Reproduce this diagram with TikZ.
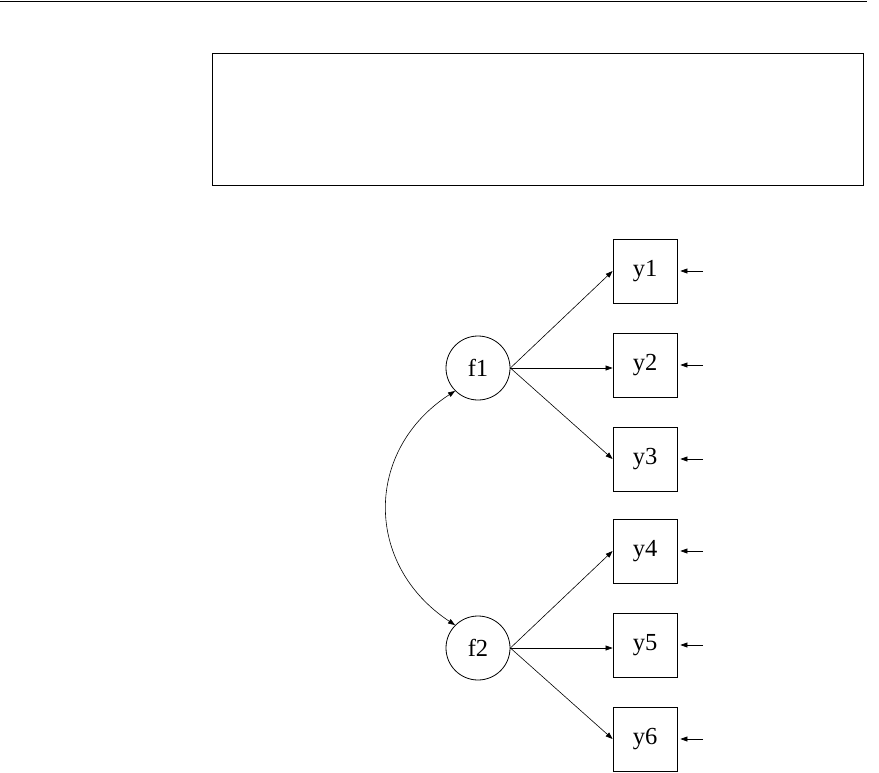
\documentclass[tikz,border=0pt]{standalone}
\usepackage{fontspec}
\setmainfont{Liberation Serif}
\usetikzlibrary{arrows.meta}
\begin{document}
\begin{tikzpicture}[x=1pt,y=-1pt,
  obs/.style={draw,line width=0.8pt,minimum width=64pt,minimum height=64pt,inner sep=0pt,font=\fontsize{24.5}{28}\selectfont},
  lat/.style={draw,circle,line width=0.8pt,minimum size=64pt,inner sep=0pt,font=\fontsize{24.5}{28}\selectfont},
  path/.style={line width=0.6pt,-{Triangle[length=7pt,width=5pt]}},
  cov/.style={line width=0.6pt,{Triangle[length=7pt,width=5pt]}-{Triangle[length=7pt,width=5pt]}}]
\useasboundingbox (0,0) rectangle (879,772);
\coordinate (tl) at (0,1);
\coordinate (tr) at (867,1);
\draw[line width=1pt] (tl) -- (tr);
\node[draw,line width=1pt,minimum width=651pt,minimum height=132pt,inner sep=0pt] (box) at (537.5,119) {};
\node[lat] (f1) at (478,368) {f1};
\node[lat] (f2) at (478,648) {f2};
\foreach \i/\y in {1/271,2/365,3/459,4/551,5/645,6/739}{
  \node[obs] (y\i) at (645,\y) {y\i};
  \coordinate (e\i) at (703,\y);
  \draw[path] (e\i) -- ([xshift=3pt]y\i.east);
}
\draw[path] (f1.east) -- (y1.west);
\draw[path] (f1.east) -- (y2.west |- f1.east);
\draw[path] (f1.east) -- (y3.west);
\draw[path] (f2.east) -- (y4.west);
\draw[path] (f2.east) -- (y5.west |- f2.east);
\draw[path] (f2.east) -- (y6.west);
\draw[cov] (f1.225) .. controls (364,450) and (364,565) .. (f2.135);
\end{tikzpicture}
\end{document}
